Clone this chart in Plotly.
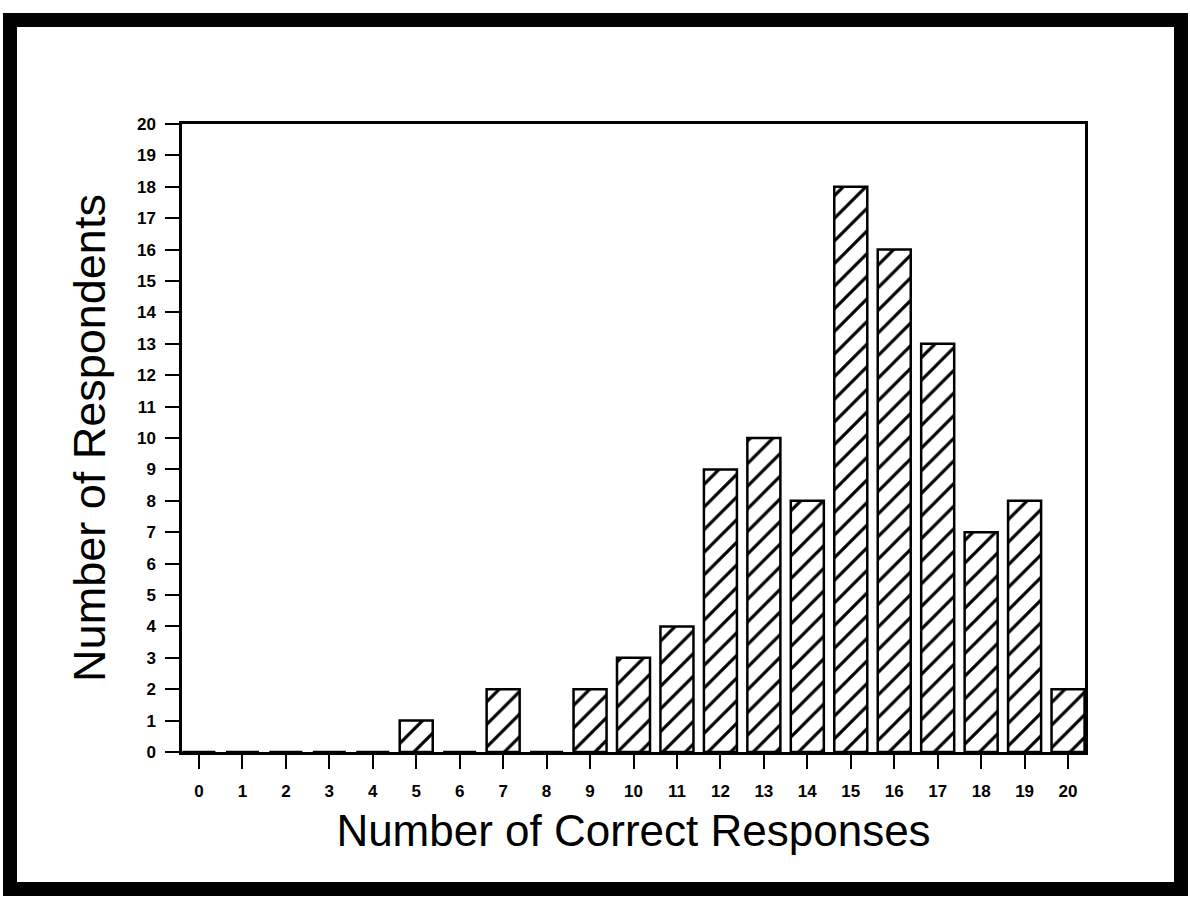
import plotly.graph_objects as go

correct_responses = list(range(0, 21))
respondents = [0, 0, 0, 0, 0, 1, 0, 2, 0, 2, 3, 4, 9, 10, 8, 18, 16, 13, 7, 8, 2]
y_ticks = list(range(0, 21))

x_title = "Number of Correct Responses"
y_title = "Number of Respondents"

W, H = 1190, 897
ML, MR, MT, MB = 182, 105, 124, 145
PW = W - ML - MR
PH = H - MT - MB


def px_x(p):
    return (p - ML) / PW


def px_y(p):
    return (H - MB - p) / PH


fig = go.Figure()
fig.add_trace(go.Bar(
    x=correct_responses,
    y=respondents,
    width=0.76,
    marker=dict(
        color="white",
        line=dict(color="black", width=2.5),
        pattern=dict(shape="/", fgcolor="black", bgcolor="white",
                     fgopacity=1, size=16, solidity=0.2, fillmode="replace"),
    ),
    showlegend=False,
    hoverinfo="x+y",
))

tick_font = dict(family="Liberation Sans, Arial, sans-serif", size=17,
                 color="black", weight="bold")
title_font = dict(family="Liberation Sans, Arial, sans-serif", size=44,
                  color="black")

fig.update_xaxes(
    range=[-0.39, 20.39],
    tickmode="array",
    tickvals=correct_responses,
    ticktext=[str(v) for v in correct_responses],
    ticks="outside", ticklen=14, tickwidth=2, tickcolor="black",
    ticklabelstandoff=8,
    showline=True, linewidth=2.5, linecolor="black", mirror=True,
    showgrid=False, zeroline=False,
    tickfont=tick_font,
    title=dict(text=x_title, font=title_font, standoff=16),
)
fig.update_yaxes(
    range=[0, 20],
    tickmode="array",
    tickvals=y_ticks,
    ticktext=[str(v) for v in y_ticks],
    ticks="outside", ticklen=14, tickwidth=2, tickcolor="black",
    ticklabelstandoff=6,
    showline=True, linewidth=2.5, linecolor="black", mirror=True,
    showgrid=False, zeroline=False,
    tickfont=tick_font,
    title=dict(text=y_title, font=dict(title_font, size=45), standoff=18),
)

# thick scanned-page frame around the figure
fig.add_shape(
    type="rect", xref="paper", yref="paper",
    x0=px_x(10), x1=px_x(1181), y0=px_y(889), y1=px_y(20),
    line=dict(color="black", width=14), fillcolor="rgba(0,0,0,0)",
    layer="above",
)

fig.update_layout(
    width=W, height=H, autosize=False,
    margin=dict(l=ML, r=MR, t=MT, b=MB, autoexpand=False),
    paper_bgcolor="white", plot_bgcolor="white",
    bargap=0.24,
)

fig.write_html(
    "out.html",
    config={"displayModeBar": False},
    post_script="document.body.style.margin='0';document.body.style.overflow='hidden';",
)
